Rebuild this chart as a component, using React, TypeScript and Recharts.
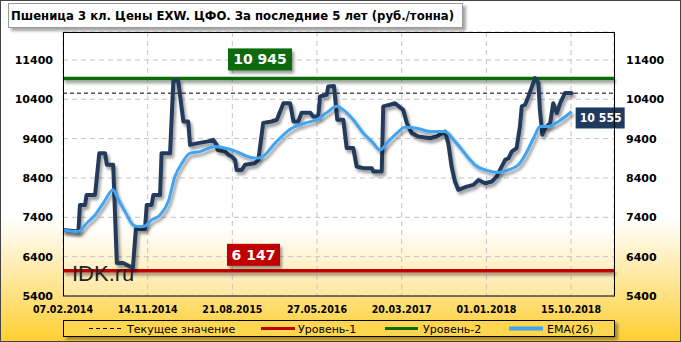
import React from 'react';
import { LineChart, Line, XAxis, YAxis, CartesianGrid, ReferenceLine, LabelList } from 'recharts';

const W = 681;
const H = 342;
const FONT = '"DejaVu Sans", Verdana, sans-serif';

const titleText = 'Пшеница  3 кл. Цены EXW. ЦФО. За последние 5 лет (руб./тонна)';

const xTickDays = [0, 280, 560, 840, 1120, 1400, 1680];
const xTickLabels = ['07.02.2014', '14.11.2014', '21.08.2015', '27.05.2016', '20.03.2017', '01.01.2018', '15.10.2018'];
const yTicks = [5400, 6400, 7400, 8400, 9400, 10400, 11400];

// days since 07.02.2014
const priceDays = [1, 51, 56, 73, 78, 106, 120, 139, 145, 166, 178, 199, 231, 241, 271, 277, 293, 299, 321, 326, 354, 365, 381, 398, 414, 420, 447, 480, 497, 508, 511, 536, 547, 558, 569, 574, 591, 602, 635, 646, 662, 690, 707, 729, 751, 762, 778, 789, 817, 828, 844, 850, 872, 877, 896, 907, 927, 938, 960, 971, 993, 1021, 1026, 1054, 1059, 1081, 1098, 1125, 1137, 1153, 1175, 1214, 1236, 1263, 1274, 1285, 1296, 1307, 1335, 1357, 1374, 1396, 1418, 1434, 1445, 1462, 1473, 1484, 1500, 1511, 1517, 1528, 1539, 1561, 1572, 1577, 1585, 1594, 1611, 1621, 1633, 1644, 1660, 1677, 1682];
const priceValues = [7080, 7040, 7715, 7715, 7970, 7970, 9030, 9030, 8735, 8735, 6240, 6240, 6110, 7100, 7100, 7715, 7715, 7970, 7970, 9030, 9030, 10870, 10870, 9835, 9835, 9240, 9285, 9330, 9370, 9240, 9115, 9070, 8990, 8945, 8860, 8605, 8605, 8735, 8775, 8860, 9795, 9835, 9880, 10300, 10300, 9835, 9835, 10060, 10060, 9960, 9960, 10470, 10515, 10725, 10740, 9880, 9880, 9160, 9160, 8690, 8650, 8650, 8565, 8565, 10220, 10260, 10300, 10130, 9795, 9540, 9455, 9410, 9455, 9580, 9285, 8690, 8310, 8100, 8180, 8225, 8350, 8265, 8310, 8435, 8605, 8860, 8900, 9070, 9160, 9710, 10220, 10260, 10470, 10940, 10810, 10130, 9500, 9665, 9795, 10300, 10050, 10300, 10560, 10560, 10555];

const emaDays = [1, 51, 78, 106, 133, 166, 178, 205, 232, 249, 271, 293, 321, 348, 370, 393, 420, 453, 503, 558, 635, 657, 701, 751, 800, 839, 877, 905, 927, 960, 993, 1021, 1048, 1076, 1104, 1131, 1170, 1214, 1263, 1296, 1324, 1346, 1362, 1396, 1440, 1473, 1506, 1534, 1561, 1577, 1605, 1638, 1682];
const emaValues = [7080, 7040, 7250, 7460, 7760, 8100, 7930, 7545, 7205, 7165, 7180, 7335, 7460, 7800, 8435, 8775, 9030, 9070, 9200, 9115, 8905, 8930, 9285, 9640, 9795, 9880, 10090, 10220, 10130, 9880, 9540, 9330, 9115, 9330, 9540, 9690, 9665, 9580, 9580, 9330, 9070, 8860, 8735, 8605, 8540, 8605, 8735, 9070, 9495, 9710, 9710, 9835, 10090];

const currentValue = 10555;
const level1Value = 6040;
const level1Label = '6 147';
const level2Value = 10930;
const level2Label = '10 945';

const priceData = priceDays.map((d, i) => ({ d, v: priceValues[i] }));
const emaData = emaDays.map((d, i) => ({ d, v: emaValues[i] }));

const fmt = (n: number) => String(n).replace(/\B(?=(\d{3})+(?!\d))/g, ' ');

const C_NAVY = '#243B5C';
const C_EMA = '#3FA4F2';
const C_GREEN = '#0B6B0B';
const C_RED = '#C00000';

const XTick = (props: any) => {
  const { x, y, payload } = props;
  const i = xTickDays.indexOf(payload.value);
  return (
    <text x={x} y={y + 17} textAnchor="middle" fontFamily={FONT} fontWeight="bold" fontSize={10} fill="#000" textLength={60} lengthAdjust="spacingAndGlyphs">
      {xTickLabels[i]}
    </text>
  );
};

const levelLabel = (text: string, color: string, dx: number, dy: number, w: number) => (props: any) => {
  const vb = props.viewBox || {};
  const x = vb.x + dx;
  const y = vb.y + dy;
  return (
    <g>
      <rect x={x} y={y} width={w} height={22} fill={color} filter="url(#boxShadow)" />
      <text x={x + w / 2} y={y + 16} textAnchor="middle" fontFamily={FONT} fontWeight="bold" fontSize={14} fill="#fff">
        {text}
      </text>
    </g>
  );
};

const lastLabel = (props: any) => {
  const { x, y, index } = props;
  if (index !== emaData.length - 1) return null;
  const bx = x + 4;
  const by = y - 4;
  return (
    <g>
      <rect x={bx} y={by} width={49} height={21} fill="#1F3A5F" />
      <text x={bx + 4} y={by + 15} fontFamily={FONT} fontWeight="bold" fontSize={12.5} fill="#fff" textLength={42} lengthAdjust="spacingAndGlyphs">
        {fmt(currentValue)}
      </text>
    </g>
  );
};

export default function App() {
  return (
    <div
      style={{
        position: 'absolute',
        left: 0,
        top: 0,
        width: W,
        height: H,
        boxSizing: 'border-box',
        border: '1px solid #444',
        background: 'linear-gradient(to bottom, #FFFFFF 0%, #FFFFFF 64%, #FFF2C8 74%, #FFDF78 88%, #FFCF30 100%)',
        overflow: 'hidden',
      }}
    >
      <div style={{ position: 'absolute', left: -1, top: -1 }}>
        <LineChart width={W} height={H} margin={{ top: 32, right: 0, bottom: 26, left: 0 }}>
          <defs>
            <linearGradient id="plotBg" x1="0" y1="0" x2="0" y2="1">
              <stop offset="0%" stopColor="#FFFFFF" />
              <stop offset="74%" stopColor="#FFFFFF" />
              <stop offset="86%" stopColor="#FFF4D2" />
              <stop offset="100%" stopColor="#FFE7A0" />
            </linearGradient>
            <filter id="lineShadow" filterUnits="userSpaceOnUse" x="0" y="0" width={W} height={H}>
              <feDropShadow dx="2" dy="3" stdDeviation="1.5" floodColor="#000" floodOpacity="0.4" />
            </filter>
            <filter id="boxShadow" filterUnits="userSpaceOnUse" x="0" y="0" width={W} height={H}>
              <feDropShadow dx="2" dy="3" stdDeviation="1.5" floodColor="#000" floodOpacity="0.4" />
            </filter>
          </defs>
          <CartesianGrid stroke="#C4C4C4" strokeDasharray="5 4" fill="url(#plotBg)" fillOpacity={1} />
          <XAxis
            dataKey="d"
            type="number"
            domain={[0, 1822]}
            ticks={xTickDays}
            allowDataOverflow
            height={20}
            axisLine={false}
            tickLine={false}
            tickSize={0}
            tickMargin={0}
            tick={<XTick />}
            interval={0}
          />
          <YAxis
            domain={[5400, 12110]}
            ticks={yTicks}
            allowDataOverflow
            width={63}
            axisLine={false}
            tickLine={false}
            tickSize={0}
            tickMargin={10}
            interval={0}
            tick={{ fontFamily: FONT, fontWeight: 'bold', fontSize: 11, fill: '#000' }}
          />
          <YAxis
            yAxisId="r"
            orientation="right"
            domain={[5400, 12110]}
            ticks={yTicks}
            allowDataOverflow
            width={67}
            axisLine={false}
            tickLine={false}
            tickSize={0}
            tickMargin={12}
            interval={0}
            tick={{ fontFamily: FONT, fontWeight: 'bold', fontSize: 11, fill: '#000' }}
          />
          <ReferenceLine y={currentValue} stroke="#000" strokeWidth={1} strokeDasharray="4 3" />
          <ReferenceLine
            y={level2Value}
            stroke={C_GREEN}
            strokeWidth={3.5}
            filter="url(#lineShadow)"
            label={levelLabel(level2Label, C_GREEN, 165, -30, 64)}
          />
          <ReferenceLine
            y={level1Value}
            stroke={C_RED}
            strokeWidth={3.5}
            filter="url(#lineShadow)"
            label={levelLabel(level1Label, C_RED, 164, -27, 53)}
          />
          <Line
            data={priceData}
            dataKey="v"
            type="linear"
            stroke={C_NAVY}
            strokeWidth={4}
            strokeLinejoin="round"
            strokeLinecap="round"
            dot={false}
            activeDot={false}
            isAnimationActive={false}
            filter="url(#lineShadow)"
          />
          <Line
            data={emaData}
            dataKey="v"
            type="monotone"
            stroke={C_EMA}
            strokeWidth={3}
            dot={false}
            activeDot={false}
            isAnimationActive={false}
            filter="url(#lineShadow)"
          >
            <LabelList dataKey="v" content={lastLabel} />
          </Line>
        </LineChart>
      </div>
      <svg width={W} height={H} style={{ position: 'absolute', left: -1, top: -1, pointerEvents: 'none' }}>
        <defs>
          <filter id="ovShadow" filterUnits="userSpaceOnUse" x="0" y="0" width={W} height={H}>
            <feDropShadow dx="3" dy="3" stdDeviation="1.5" floodColor="#000" floodOpacity="0.35" />
          </filter>
        </defs>
        {/* plot frame */}
        <rect x={63.5} y={32.5} width={551} height={263.5} fill="none" stroke="#000" strokeWidth={1} />
        {/* watermark */}
        <text x={72} y={281} fontFamily='"Liberation Sans", Arial, sans-serif' fontSize={22} fill="#222">IDK.ru</text>
        {/* title */}
        <rect x={8.5} y={3.5} width={454} height={24} fill="#fff" stroke="#9A9A9A" strokeWidth={1} filter="url(#ovShadow)" />
        <text x={11} y={20} fontFamily={FONT} fontWeight="bold" fontSize={11.5} fill="#000" textLength={443} lengthAdjust="spacingAndGlyphs">
          {titleText}
        </text>
        {/* legend */}
        <rect x={63.5} y={320.5} width={551} height={16} fill="#FFD650" stroke="#000" strokeWidth={1} filter="url(#ovShadow)" />
        <line x1={89} x2={122} y1={328.5} y2={328.5} stroke="#000" strokeWidth={1} strokeDasharray="4 3" />
        <text x={127} y={332.5} fontFamily={FONT} fontSize={11} fill="#000">Текущее значение</text>
        <line x1={261} x2={295} y1={328.5} y2={328.5} stroke={C_RED} strokeWidth={3} />
        <text x={298} y={332.5} fontFamily={FONT} fontSize={11} fill="#000">Уровень-1</text>
        <line x1={385} x2={418} y1={328.5} y2={328.5} stroke={C_GREEN} strokeWidth={3} />
        <text x={423} y={332.5} fontFamily={FONT} fontSize={11} fill="#000">Уровень-2</text>
        <line x1={509} x2={543} y1={328.5} y2={328.5} stroke={C_EMA} strokeWidth={4} />
        <text x={547} y={332.5} fontFamily={FONT} fontSize={11} fill="#000">EMA(26)</text>
      </svg>
    </div>
  );
}
